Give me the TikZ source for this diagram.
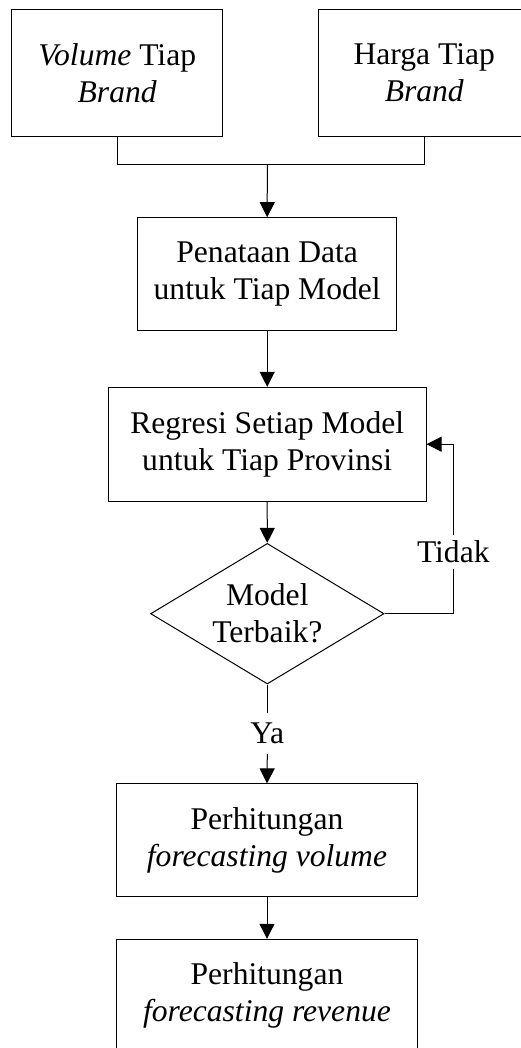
\documentclass[tikz,border=0pt]{standalone}
\usepackage{fontspec}
\setmainfont{Liberation Serif}
\usetikzlibrary{shapes.geometric,arrows.meta}
\begin{document}
\begin{tikzpicture}[x=1pt,y=-1pt,
  txt/.style={font=\fontsize{31.6}{37}\selectfont,align=center,text=black},
  box/.style={txt,draw=black,line width=1pt,inner sep=0pt},
  dia/.style={txt,draw=black,line width=1pt,shape=diamond,aspect=1.66,inner sep=0pt,minimum width=233.4pt,minimum height=140.6pt},
  lbl/.style={txt,inner xsep=2pt},
  line/.style={draw=black,line width=1pt},
  arr/.style={line,-{Triangle[width=15pt,length=15pt]}}]
\useasboundingbox (0,0) rectangle (520,1048);
\node[box,minimum width=211pt,minimum height=127.4pt] (vol) at (117.2,73) {\textit{Volume} Tiap\\\textit{Brand}};
\node[box,minimum width=211pt,minimum height=127.4pt] (harga) at (424.3,73) {Harga Tiap\\\textit{Brand}};
\node[box,minimum width=259pt,minimum height=113pt] (tata) at (267.2,274.2) {Penataan Data\\untuk Tiap Model};
\node[box,minimum width=317.7pt,minimum height=113.7pt] (reg) at (267.2,444.2) {Regresi Setiap Model\\untuk Tiap Provinsi};
\node[dia] (model) at (267.3,613.7) {Model\\Terbaik?};
\node[box,minimum width=300.6pt,minimum height=113pt] (fv) at (267,840.4) {Perhitungan\\\textit{forecasting volume}};
\node[box,minimum width=300.6pt,minimum height=113pt] (fr) at (267,995.8) {Perhitungan\\\textit{forecasting revenue}};
\node[lbl,inner ysep=10pt] (ya) at (267.3,733.5) {Ya};
\node[lbl,inner ysep=6pt] (tidak) at (453.3,552) {Tidak};
\coordinate (join) at (267.3,164.3);
\coordinate (bend) at (453.3,613.7);
\draw[line] (vol.south) |- (join) -| (harga.south);
\draw[arr] (join) -- (tata.north);
\draw[arr] (tata) -- (reg);
\draw[arr] (reg) -- (model);
\draw[line] (model.south) -- (ya.north);
\draw[arr] (ya.south) -- (fv.north);
\draw[arr] (fv) -- (fr);
\draw[line] (model.east) -- (bend) -- (tidak.south);
\draw[arr] (tidak.north) |- (reg.east);
\end{tikzpicture}
\end{document}
